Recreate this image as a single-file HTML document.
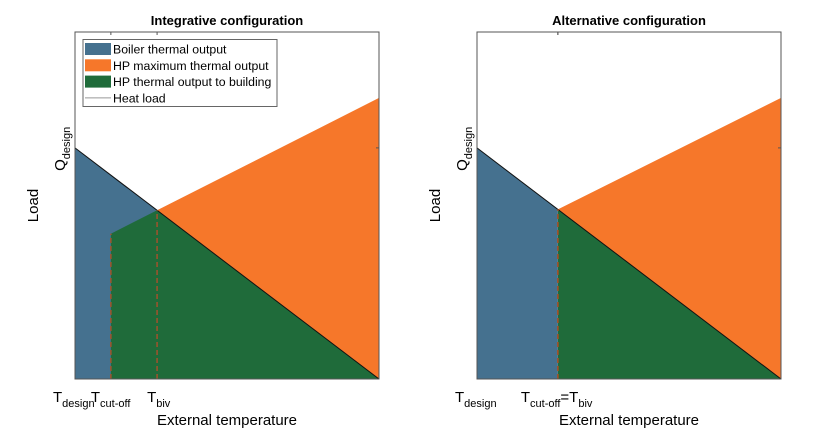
<!DOCTYPE html>
<html><head><meta charset="utf-8"><style>
html,body{margin:0;padding:0;background:#fff;}
svg{display:block;font-family:"Liberation Sans",sans-serif;}
</style></head><body>
<svg id="c" width="820" height="429" viewBox="0 0 820 429"></svg>
<script>
// data (normalized units: temperature 0..10, load 0..1)
const tDesign = 0, tEnd = 10;
const qDesign = 0.666;
const hpMaxEnd = [0.81, 0.81];
const tCutoff = [1.18, 2.66];
const tBiv = [2.70, 2.66];
const titles = ["Integrative configuration", "Alternative configuration"];
const plotX0 = [75, 477];
const C = {blue:"#45718f", orange:"#f6772a", green:"#1f6b3a", dash:"#a0522d"};
const NS = "http://www.w3.org/2000/svg";
const svg = document.getElementById('c');
function el(tag, attrs, parent, txt){
  const e = document.createElementNS(NS, tag);
  for (const k in attrs) e.setAttribute(k, attrs[k]);
  if (txt !== undefined) e.textContent = txt;
  (parent || svg).appendChild(e);
  return e;
}
const W = 304, Y0 = 379, H = 347;
for (let p = 0; p < 2; p++) {
  const g = el('g', {});
  
  
  const x0 = plotX0[p];
  const sx = t => x0 + (t - tDesign) / (tEnd - tDesign) * W;
  const sy = v => Y0 - v * H;
  const heat = t => qDesign * (1 - (t - tDesign) / (tEnd - tDesign));
  const qb = heat(tBiv[p]);
  const hp = t => qb + (hpMaxEnd[p] - qb) * (t - tBiv[p]) / (tEnd - tBiv[p]);
  const pts = a => a.map(q => sx(q[0]) + ',' + sy(q[1])).join(' ');
  let e = el('polygon', {points: pts([[tDesign,0],[tDesign,qDesign],[tBiv[p],qb],[tBiv[p],0]]), fill: C.blue}, g);
   
  e = el('polygon', {points: pts([[tBiv[p],qb],[tEnd,hpMaxEnd[p]],[tEnd,0]]), fill: C.orange}, g);
   
  e = el('polygon', {points: pts([[tCutoff[p],0],[tCutoff[p],hp(tCutoff[p])],[tBiv[p],qb],[tEnd,0]]), fill: C.green}, g);
   
  e = el('line', {x1: sx(tDesign), y1: sy(qDesign), x2: sx(tEnd), y2: sy(0), stroke: '#111', 'stroke-width': 1}, g);
   
  e = el('line', {x1: sx(tCutoff[p]), y1: sy(0), x2: sx(tCutoff[p]), y2: sy(hp(tCutoff[p])), stroke: C.dash, 'stroke-width': 1.5, 'stroke-dasharray': '5,3'}, g);
   
  e = el('line', {x1: sx(tBiv[p]), y1: sy(0), x2: sx(tBiv[p]), y2: sy(qb), stroke: C.dash, 'stroke-width': 1.5, 'stroke-dasharray': '5,3'}, g);
   
  e = el('rect', {x: x0, y: Y0 - H, width: W, height: H, fill: 'none', stroke: '#555', 'stroke-width': 1}, g);
   
  [tCutoff[p], tBiv[p]].forEach(t => { el('line', {x1: sx(t), x2: sx(t), y1: Y0 - H, y2: Y0 - H + 3, stroke: '#555'}, g); });
  el('line', {x1: x0 + W - 3, x2: x0 + W, y1: sy(qDesign), y2: sy(qDesign), stroke: '#555'}, g);
  e = el('text', {x: x0 + W / 2, y: 25, 'text-anchor': 'middle', 'font-size': 13, 'font-weight': 'bold'}, g, titles[p]);
   
  e = el('text', {x: x0 + W / 2, y: 425, 'text-anchor': 'middle', 'font-size': 15}, g, 'External temperature');
   
  e = el('text', {transform: `translate(${x0 - 37},${sy(0.5)}) rotate(-90)`, 'text-anchor': 'middle', 'font-size': 15}, g, 'Load');
   
  e = el('text', {transform: `translate(${x0 - 10},${sy(qDesign) + 23}) rotate(-90)`, 'font-size': 15}, g);
   
  el('tspan', {}, e, 'Q');
  el('tspan', {'font-size': 11, dy: 5}, e, 'design');
  function sub(x, main, s, name){
    const t = el('text', {x: x, y: 402, 'font-size': 15}, g);
     
    el('tspan', {}, t, main);
    el('tspan', {'font-size': 11, dy: 5}, t, s);
    return t;
  }
  sub(sx(tDesign) - 22, 'T', 'design', 'x-tick-t-design');
  if (p === 0) {
    sub(sx(tCutoff[p]) - 20, 'T', 'cut-off', 'x-tick-t-cutoff');
    sub(sx(tBiv[p]) - 10, 'T', 'biv', 'x-tick-t-biv');
  } else {
    const t = sub(sx(tCutoff[p]) - 37, 'T', 'cut-off', 'x-tick-t-cutoff-biv');
    el('tspan', {dy: -5}, t, '=T');
    el('tspan', {'font-size': 11, dy: 5}, t, 'biv');
  }
}
const lg = el('g', {});


el('rect', {x: 83, y: 39.5, width: 194, height: 67, fill: '#fff', stroke: '#666'}, lg);
const legLabels = ["Boiler thermal output", "HP maximum thermal output", "HP thermal output to building", "Heat load"];
const legCols = [C.blue, C.orange, C.green, null];
legLabels.forEach((lab, i) => {
  const y = 49 + i * 16.3;
  const g = el('g', {}, lg);
  
  
  if (legCols[i]) el('rect', {x: 85, y: y - 6, width: 26, height: 12, fill: legCols[i]}, g);
  else el('line', {x1: 85, x2: 111, y1: y, y2: y, stroke: '#999'}, g);
  el('text', {x: 113, y: y + 4.5, 'font-size': 12.3}, g, lab);
});
</script>
</body></html>
